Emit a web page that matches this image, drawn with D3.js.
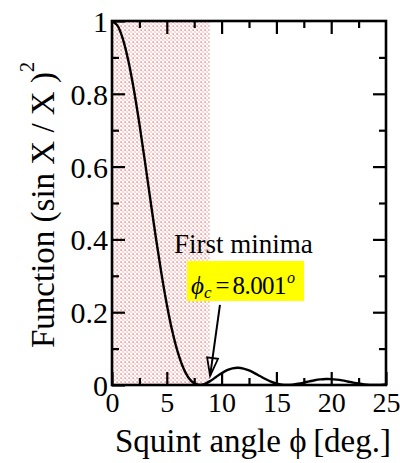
<!DOCTYPE html>
<html>
<head>
<meta charset="utf-8">
<script src="https://cdn.jsdelivr.net/npm/d3@7/dist/d3.min.js"></script>
<style>
  html, body { margin: 0; padding: 0; background: #fff; }
  svg text { font-family: "Liberation Serif", "Times New Roman", serif; fill: #000; }
</style>
</head>
<body>
<svg id="chart" width="400" height="463"></svg>
<script>
// Squint angle samples (degrees) and the normalized pattern value (sin X / X)^2
const phiDeg = [0, 0.5, 1, 1.5, 2, 2.5, 3, 3.5, 4, 4.5, 5, 5.5, 6, 6.5, 7, 7.5, 8, 8.5, 9, 9.5,
  10, 10.5, 11, 11.5, 12, 12.5, 13, 13.5, 14, 14.5, 15, 15.5, 16, 16.5, 17, 17.5, 18, 18.5, 19, 19.5,
  20, 20.5, 21, 21.5, 22, 22.5, 23, 23.5, 24, 24.5, 25];
const funcValue = [1.0000, 0.9872, 0.9497, 0.8896, 0.8106, 0.7173, 0.6150, 0.5092, 0.4053, 0.3080,
  0.2214, 0.1482, 0.0901, 0.0474, 0.0194, 0.0044, 0.0000, 0.0034, 0.0117, 0.0222,
  0.0324, 0.0407, 0.0457, 0.0472, 0.0450, 0.0399, 0.0328, 0.0246, 0.0165, 0.0095,
  0.0042, 0.0010, 0.0000, 0.0009, 0.0033, 0.0065, 0.0100, 0.0131, 0.0153, 0.0164,
  0.0162, 0.0148, 0.0126, 0.0097, 0.0067, 0.0040, 0.0018, 0.0004, 0.0000, 0.0004, 0.0015];

// Axis ticks
const xMajorTicks = [0, 5, 10, 15, 20, 25];
const xMinorTicks = [2.5, 7.5, 12.5, 17.5, 22.5];
const yMajorTicks = [0, 0.2, 0.4, 0.6, 0.8, 1];
const yTickLabels = ["0", "0.2", "0.4", "0.6", "0.8", "1"];
const yMinorTicks = [0.1, 0.3, 0.5, 0.7, 0.9];

// Shaded main-lobe band and the first-minimum callout
const shadeRange = [0, 8.9];
const firstMinimum = 8.001;
const arrowFrom = [9.85, 0.22];
const arrowTo = [8.95, 0.025];

const margin = { left: 112, top: 21, right: 14, bottom: 78 };
const W = 400, H = 463;
const innerW = W - margin.left - margin.right;
const innerH = H - margin.top - margin.bottom;
const serif = '"Liberation Serif", "Times New Roman", serif';

const svg = d3.select("#chart");

const defs = svg.append("defs");
const pat = defs.append("pattern")
  .attr("id", "hatch").attr("patternUnits", "userSpaceOnUse")
  .attr("width", 4).attr("height", 4);
pat.append("rect").attr("width", 4).attr("height", 4).attr("fill", "#fff");
pat.append("rect").attr("x", 0).attr("y", 0).attr("width", 2).attr("height", 2).attr("fill", "#f8c0c0");
pat.append("rect").attr("x", 2).attr("y", 2).attr("width", 2).attr("height", 2).attr("fill", "#fbd6d6");
pat.append("rect").attr("x", 1).attr("y", 1).attr("width", 1).attr("height", 1).attr("fill", "#f09c9c");

defs.append("clipPath").attr("id", "plotClip")
  .append("rect").attr("width", innerW).attr("height", innerH);

const g = svg.append("g").attr("transform", `translate(${margin.left},${margin.top})`);

const x = d3.scaleLinear().domain([0, 25]).range([0, innerW]);
const y = d3.scaleLinear().domain([0, 1]).range([innerH, 0]);

// shaded band
g.append("rect")
  .attr("x", x(shadeRange[0])).attr("y", 0)
  .attr("width", x(shadeRange[1]) - x(shadeRange[0])).attr("height", innerH)
  .attr("fill", "url(#hatch)");

// curve
const pts = phiDeg.map((p, i) => [p, funcValue[i]]);
const line = d3.line().x(d => x(d[0])).y(d => y(d[1])).curve(d3.curveCatmullRom.alpha(0.5));
g.append("path").datum(pts)
  .attr("clip-path", "url(#plotClip)")
  .attr("d", line)
  .attr("fill", "none").attr("stroke", "#000").attr("stroke-width", 2.4);

// axes: ticks point inward on all four sides
const tickStroke = 2.2;
function addAxis(axisGen, transform) {
  const a = g.append("g").attr("transform", transform).call(axisGen)
    .attr("font-family", serif);
  a.select(".domain").remove();
  a.selectAll(".tick line").attr("stroke", "#000").attr("stroke-width", tickStroke);
  a.selectAll(".tick text").attr("fill", "#000").style("font-family", serif);
  return a;
}
const majLen = 13, minLen = 7;
const bottomMaj = addAxis(d3.axisBottom(x).tickValues(xMajorTicks).tickSizeInner(-majLen).tickPadding(7).tickFormat(d3.format("d")), `translate(0,${innerH})`);
bottomMaj.selectAll("text").attr("font-size", 28).attr("dy", "0.71em");
addAxis(d3.axisBottom(x).tickValues(xMinorTicks).tickSizeInner(-minLen).tickFormat(""), `translate(0,${innerH})`);
addAxis(d3.axisTop(x).tickValues(xMajorTicks.slice(1, -1)).tickSizeInner(-majLen).tickFormat(""), "translate(0,0)");
addAxis(d3.axisTop(x).tickValues(xMinorTicks).tickSizeInner(-minLen).tickFormat(""), "translate(0,0)");

const leftMaj = addAxis(d3.axisLeft(y).tickValues(yMajorTicks).tickSizeInner(-majLen).tickPadding(4)
  .tickFormat((d, i) => yTickLabels[i]), "translate(0,0)");
leftMaj.selectAll("text").attr("font-size", 30).attr("dy", "0.35em");
addAxis(d3.axisLeft(y).tickValues(yMinorTicks).tickSizeInner(-minLen).tickFormat(""), "translate(0,0)");
addAxis(d3.axisRight(y).tickValues(yMajorTicks.slice(1, -1)).tickSizeInner(-majLen).tickFormat(""), `translate(${innerW},0)`);
addAxis(d3.axisRight(y).tickValues(yMinorTicks).tickSizeInner(-minLen).tickFormat(""), `translate(${innerW},0)`);

// frame
g.append("rect").attr("width", innerW).attr("height", innerH)
  .attr("fill", "none").attr("stroke", "#000").attr("stroke-width", 2.6);

// axis titles
svg.append("text")
  .attr("x", 115).attr("y", 452).attr("font-size", 33)
  .text("Squint angle \u03D5\u2009[deg.]");

const yTitle = svg.append("text")
  .attr("transform", "translate(54,348) rotate(-90)")
  .attr("font-size", 33);
yTitle.append("tspan").text("Function (sin X / X )");
yTitle.append("tspan").attr("font-size", 20).attr("dy", -20).text("2");

// callout
g.append("text")
  .attr("x", 174 - margin.left).attr("y", 253 - margin.top)
  .attr("font-size", 27).text("First minima");

const boxX = 187 - margin.left, boxY = 261 - margin.top;
g.append("rect").attr("x", boxX).attr("y", boxY).attr("width", 117).attr("height", 40).attr("fill", "#ffff00");
const lab = g.append("text").attr("x", boxX + 4).attr("y", boxY + 33).attr("font-size", 25);
lab.append("tspan").attr("font-style", "italic").text("\u03D5");
lab.append("tspan").attr("font-style", "italic").attr("font-size", 17).attr("dy", 4).text("c");
lab.append("tspan").attr("dy", -4).attr("dx", 4).text("=");
lab.append("tspan").attr("dx", 3).attr("letter-spacing", -0.6).text(firstMinimum.toFixed(3));
lab.append("tspan").attr("font-style", "italic").attr("font-size", 16).attr("dy", -11).attr("dx", 1).text("o");

// arrow
const ax0 = x(arrowFrom[0]), ay0 = y(arrowFrom[1]);
const ax1 = x(arrowTo[0]), ay1 = y(arrowTo[1]);
g.append("line").attr("x1", ax0).attr("y1", ay0).attr("x2", ax1).attr("y2", ay1)
  .attr("stroke", "#000").attr("stroke-width", 2);
const ang = Math.atan2(ay1 - ay0, ax1 - ax0);
const headL = 18, headW = 5.5;
const bx = ax1 - headL * Math.cos(ang), by = ay1 - headL * Math.sin(ang);
const px = -Math.sin(ang) * headW, py = Math.cos(ang) * headW;
g.append("path")
  .attr("d", `M${bx + px},${by + py}L${ax1},${ay1}L${bx - px},${by - py}Z`)
  .attr("fill", "none").attr("stroke", "#000").attr("stroke-width", 1.8).attr("stroke-linejoin", "miter");
</script>
</body>
</html>
